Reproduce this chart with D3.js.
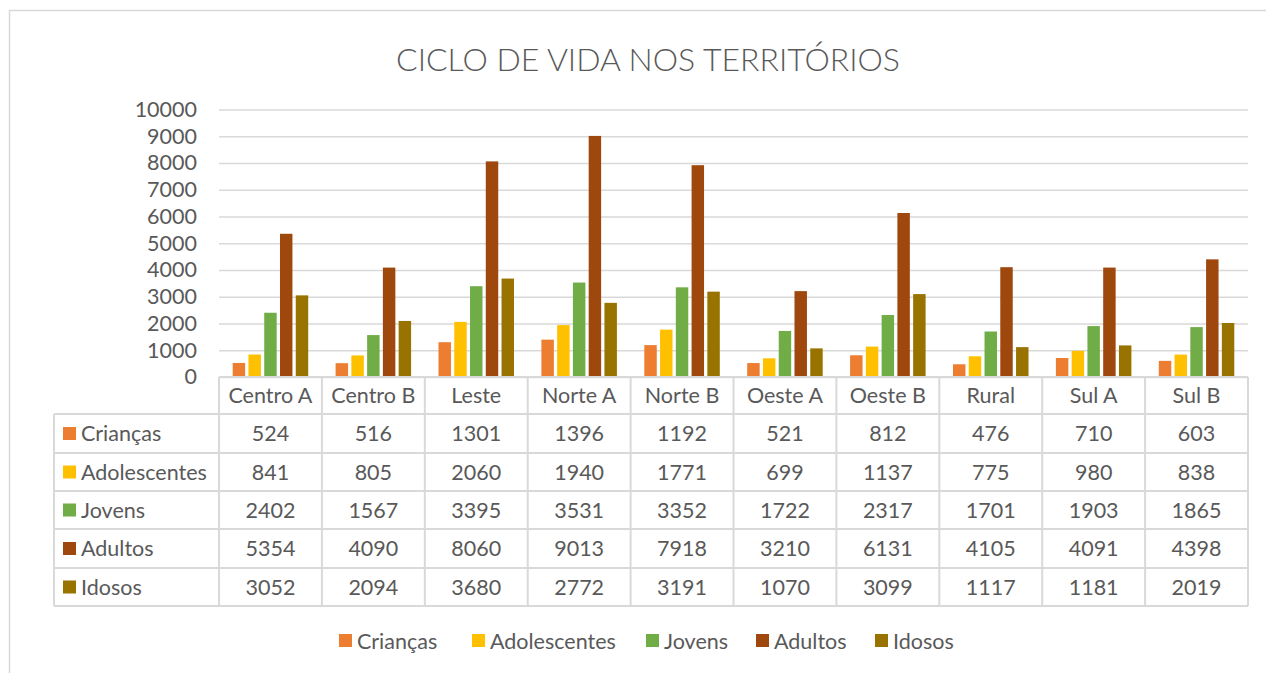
<!DOCTYPE html>
<html>
<head>
<meta charset="utf-8">
<script src="https://cdn.jsdelivr.net/npm/d3@7"></script>
<style>
  body { margin: 0; background: #fff; }
  svg text { font-family: Lato, "Open Sans", sans-serif; fill: #595959; }
</style>
</head>
<body>
<svg id="chart" width="1266" height="673"></svg>
<script>
// chart data
var categories = ["Centro A", "Centro B", "Leste", "Norte A", "Norte B", "Oeste A", "Oeste B", "Rural", "Sul A", "Sul B"];
var seriesNames = ["Crianças", "Adolescentes", "Jovens", "Adultos", "Idosos"];
var seriesColors = ["#ED7D31", "#FFC000", "#70AD47", "#9E480E", "#997300"];

var criancas     = [524, 516, 1301, 1396, 1192, 521, 812, 476, 710, 603];
var adolescentes = [841, 805, 2060, 1940, 1771, 699, 1137, 775, 980, 838];
var jovens       = [2402, 1567, 3395, 3531, 3352, 1722, 2317, 1701, 1903, 1865];
var adultos      = [5354, 4090, 8060, 9013, 7918, 3210, 6131, 4105, 4091, 4398];
var idosos       = [3052, 2094, 3680, 2772, 3191, 1070, 3099, 1117, 1181, 2019];

var yTicks = [0, 1000, 2000, 3000, 4000, 5000, 6000, 7000, 8000, 9000, 10000];

var series = [criancas, adolescentes, jovens, adultos, idosos];

var svg = d3.select("#chart");

var plotLeft = 219, plotRight = 1248, plotTop = 109.5, plotBottom = 377;
var tableLeft = 54;
var rowLines = [377, 414, 453, 491, 529, 568, 606];
var gridColor = "#D9D9D9";
var fontSize = "21.5px";

// outer frame
svg.append("rect")
	.attr("x", 9.5).attr("y", 10.5)
	.attr("width", 1270).attr("height", 700)
	.attr("fill", "none")
	.attr("stroke", gridColor)
	.attr("stroke-width", 1.5);

// title
svg.append("text")
	.attr("x", 648).attr("y", 71)
	.attr("text-anchor", "middle")
	.style("font-size", "32px")
	.style("font-weight", 300)
	.text("CICLO DE VIDA NOS TERRITÓRIOS");

var x = d3.scaleBand()
	.domain(categories)
	.range([plotLeft, plotRight]);

var xInner = d3.scaleBand()
	.domain(d3.range(seriesNames.length))
	.range([13.7, x.bandwidth() - 13.7])
	.paddingInner(0.21);

var y = d3.scaleLinear()
	.domain([0, 10000])
	.range([plotBottom, plotTop]);

// value axis + gridlines
var yAxis = d3.axisLeft(y)
	.tickValues(yTicks)
	.tickFormat(d3.format("d"))
	.tickSize(-(plotRight - plotLeft))
	.tickPadding(22);

var yg = svg.append("g")
	.attr("transform", "translate(" + plotLeft + ",0)")
	.call(yAxis);

yg.select(".domain").remove();
yg.selectAll(".tick line").attr("stroke", gridColor).attr("stroke-width", 1.5);
yg.selectAll(".tick text")
	.style("font-size", fontSize)
	.attr("fill", "#595959")
	.attr("font-family", null);

// bars
var groups = svg.append("g").selectAll("g")
	.data(series)
	.join("g")
	.attr("fill", function(d, i) { return seriesColors[i]; });

groups.each(function(vals, si)
{
	d3.select(this).selectAll("rect")
		.data(vals)
		.join("rect")
		.attr("x", function(d, ci) { return x(categories[ci]) + xInner(si); })
		.attr("y", function(d) { return y(d); })
		.attr("width", xInner.bandwidth())
		.attr("height", function(d) { return y(0) - y(d); });
});

// data table
var table = svg.append("g");
var lineAttr = { "stroke": gridColor, "stroke-width": 2 };

// horizontal lines
rowLines.forEach(function(ly, i)
{
	table.append("line")
		.attr("x1", i < 1 ? plotLeft : tableLeft)
		.attr("x2", plotRight)
		.attr("y1", ly).attr("y2", ly)
		.attr("stroke", lineAttr.stroke)
		.attr("stroke-width", lineAttr["stroke-width"]);
});

// vertical lines
var colEdges = categories.map(function(c) { return x(c); }).concat([plotRight]);
colEdges.forEach(function(cx)
{
	table.append("line")
		.attr("x1", cx).attr("x2", cx)
		.attr("y1", rowLines[0]).attr("y2", rowLines[rowLines.length - 1])
		.attr("stroke", lineAttr.stroke)
		.attr("stroke-width", lineAttr["stroke-width"]);
});
table.append("line")
	.attr("x1", tableLeft).attr("x2", tableLeft)
	.attr("y1", rowLines[1]).attr("y2", rowLines[rowLines.length - 1])
	.attr("stroke", lineAttr.stroke)
	.attr("stroke-width", lineAttr["stroke-width"]);

// category header
table.selectAll("text.cat")
	.data(categories)
	.join("text")
	.attr("class", "cat")
	.attr("x", function(d) { return x(d) + x.bandwidth() / 2; })
	.attr("y", (rowLines[0] + rowLines[1]) / 2)
	.attr("dy", "0.35em")
	.attr("text-anchor", "middle")
	.style("font-size", fontSize)
	.text(function(d) { return d; });

// series rows
series.forEach(function(vals, si)
{
	var cy = (rowLines[si + 1] + rowLines[si + 2]) / 2;

	table.append("rect")
		.attr("x", 63).attr("y", cy - 6.5)
		.attr("width", 13).attr("height", 13)
		.attr("fill", seriesColors[si]);

	table.append("text")
		.attr("x", 81).attr("y", cy)
		.attr("dy", "0.35em")
		.style("font-size", fontSize)
		.text(seriesNames[si]);

	table.selectAll("text.v" + si)
		.data(vals)
		.join("text")
		.attr("class", "v" + si)
		.attr("x", function(d, ci) { return x(categories[ci]) + x.bandwidth() / 2; })
		.attr("y", cy)
		.attr("dy", "0.35em")
		.attr("text-anchor", "middle")
		.style("font-size", fontSize)
		.text(function(d) { return d; });
});

// legend
var legendX = [339, 472, 646, 756, 875];
var legend = svg.append("g").selectAll("g")
	.data(seriesNames)
	.join("g")
	.attr("transform", function(d, i) { return "translate(" + legendX[i] + ",641)"; });

legend.append("rect")
	.attr("x", 0).attr("y", -7)
	.attr("width", 13).attr("height", 13)
	.attr("fill", function(d, i) { return seriesColors[i]; });

legend.append("text")
	.attr("x", 18).attr("y", 0)
	.attr("dy", "0.35em")
	.style("font-size", fontSize)
	.text(function(d) { return d; });
</script>
</body>
</html>
